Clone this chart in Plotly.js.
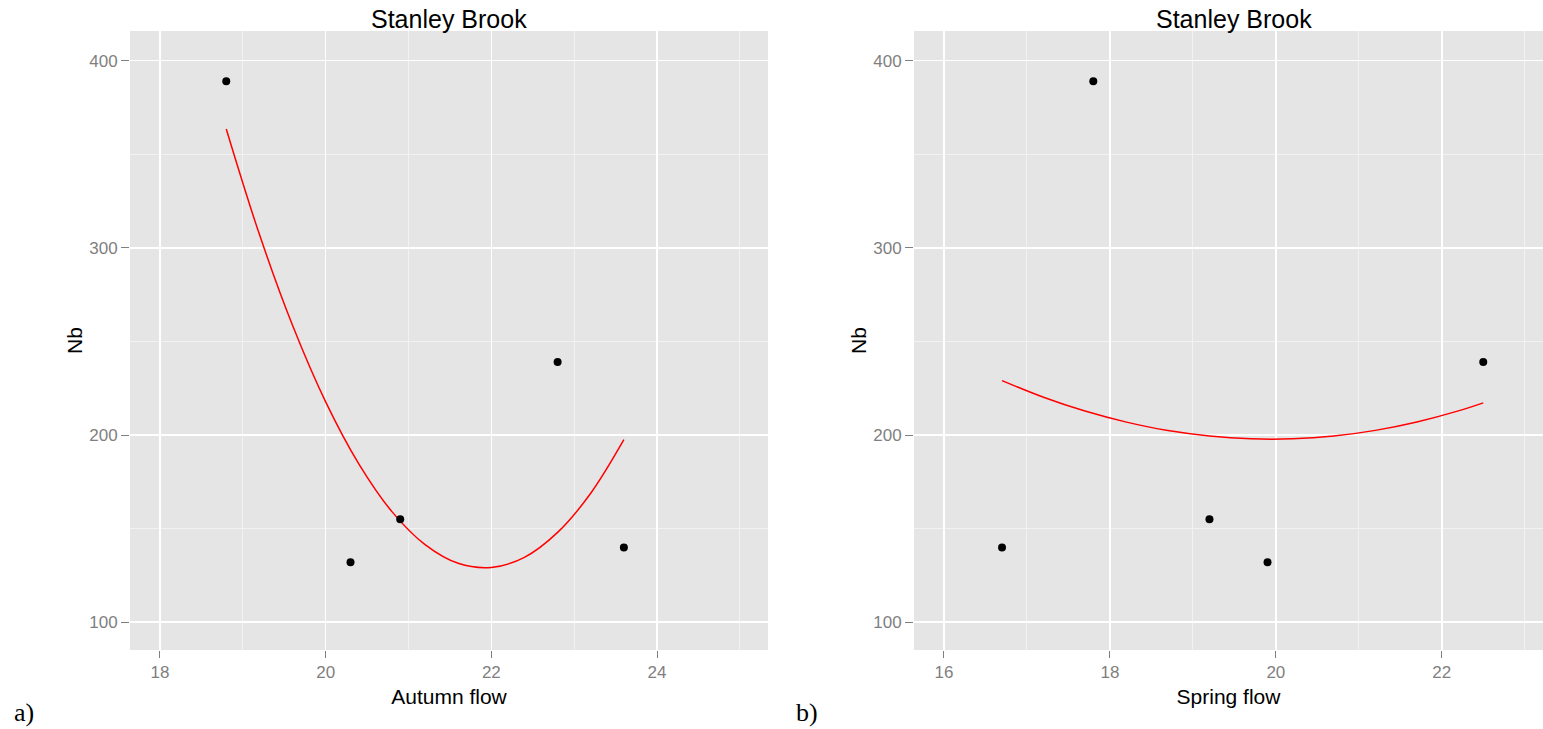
<!DOCTYPE html>
<html>
<head>
<meta charset="utf-8">
<script src="https://cdn.plot.ly/plotly-3.0.1.min.js"></script>
<style>html,body{margin:0;padding:0;background:#fff;}#chart{width:1543px;height:729px;}</style>
</head>
<body>
<div id="chart"></div>
<script>
// Panel a) Autumn flow
const autumnFlow = [18.8, 20.3, 20.9, 22.8, 23.6];
const autumnNb   = [389, 132, 155, 239, 140];
// fitted curve
const autumnFitX = [18.8, 19.2, 19.6, 20.0, 20.4, 20.8, 21.2, 21.6, 22.0, 22.4, 22.8, 23.2, 23.6];
const autumnFitY = [363.5, 307.2, 258.6, 217.7, 184.6, 159.1, 141.5, 131.5, 129.3, 134.7, 148.0, 168.9, 197.5];

// Panel b) Spring flow
const springFlow = [16.7, 17.8, 19.2, 19.9, 22.5];
const springNb   = [140, 389, 155, 132, 239];
const springFitX = [16.7, 17.2, 17.7, 18.2, 18.7, 19.2, 19.7, 20.2, 20.7, 21.2, 21.7, 22.2, 22.5];
const springFitY = [229.1, 220.2, 212.8, 206.9, 202.4, 199.5, 198.0, 198.0, 199.5, 202.5, 207.0, 212.9, 217.2];

const xTicks = [16, 18, 20, 22, 24];
const yTicks = [100, 200, 300, 400];
const panelTitle = "Stanley Brook";

const W = 1543, H = 729;
const px = v => v / W;
const py = v => 1 - v / H;

const font = "Liberation Sans, Arial, sans-serif";
const tickCol = "#7F7F7F";

function xAxis(domain, range, title) {
  return {
    domain: domain, range: range, tickmode: "array", tickvals: xTicks,
    ticktext: xTicks.map(String),
    ticks: "outside", ticklen: 7, tickwidth: 1, tickcolor: tickCol,
    tickfont: {family: font, size: 17, color: tickCol},
    showgrid: true, gridcolor: "#FFFFFF", gridwidth: 1.6,
    minor: {dtick: 1, tick0: 0, showgrid: true, gridcolor: "#F2F2F2", gridwidth: 1, ticks: ""},
    zeroline: false, showline: false, fixedrange: true,
    title: {text: title, font: {family: font, size: 21, color: "#000"}, standoff: 7}
  };
}
function yAxis(anchor) {
  return {
    domain: [py(650), py(31)], range: [85.2, 415.8], anchor: anchor,
    tickmode: "array", tickvals: yTicks, ticktext: yTicks.map(String),
    ticks: "outside", ticklen: 8, tickwidth: 1, tickcolor: tickCol,
    tickfont: {family: font, size: 17, color: tickCol},
    showgrid: true, gridcolor: "#FFFFFF", gridwidth: 1.6,
    minor: {dtick: 50, tick0: 0, showgrid: true, gridcolor: "#F2F2F2", gridwidth: 1, ticks: ""},
    zeroline: false, showline: false, fixedrange: true,
    title: {text: "Nb", font: {family: font, size: 21, color: "#000"}, standoff: 0}
  };
}

const pointStyle = {color: "#000000", size: 8, symbol: "circle"};
const lineStyle = {color: "#FF0000", width: 1.5, shape: "spline"};

const data = [
  {x: autumnFitX, y: autumnFitY, mode: "lines", line: lineStyle, xaxis: "x", yaxis: "y", hoverinfo: "skip"},
  {x: autumnFlow, y: autumnNb, mode: "markers", marker: pointStyle, xaxis: "x", yaxis: "y"},
  {x: springFitX, y: springFitY, mode: "lines", line: lineStyle, xaxis: "x2", yaxis: "y2", hoverinfo: "skip"},
  {x: springFlow, y: springNb, mode: "markers", marker: pointStyle, xaxis: "x2", yaxis: "y2"}
];

const layout = {
  width: W, height: H,
  margin: {l: 0, r: 0, t: 0, b: 0},
  paper_bgcolor: "#FFFFFF", plot_bgcolor: "#E5E5E5",
  showlegend: false,
  xaxis: xAxis([px(130), px(768)], [17.638, 25.34], "Autumn flow"),
  yaxis: yAxis("x"),
  xaxis2: xAxis([px(914), 1], [15.639, 23.22], "Spring flow"),
  yaxis2: yAxis("x2"),
  annotations: [
    {text: panelTitle, xref: "paper", yref: "paper", x: px(449), y: py(19), xanchor: "center", yanchor: "middle",
     showarrow: false, font: {family: font, size: 25, color: "#000"}},
    {text: panelTitle, xref: "paper", yref: "paper", x: px(1234), y: py(19), xanchor: "center", yanchor: "middle",
     showarrow: false, font: {family: font, size: 25, color: "#000"}},
    {text: "a)", xref: "paper", yref: "paper", x: px(12), y: py(712), xanchor: "left", yanchor: "middle",
     showarrow: false, font: {family: "Liberation Serif, Times New Roman, serif", size: 26, color: "#000"}},
    {text: "b)", xref: "paper", yref: "paper", x: px(794), y: py(712), xanchor: "left", yanchor: "middle",
     showarrow: false, font: {family: "Liberation Serif, Times New Roman, serif", size: 26, color: "#000"}}
  ]
};

Plotly.newPlot("chart", data, layout, {displayModeBar: false, staticPlot: true});
</script>
</body>
</html>
